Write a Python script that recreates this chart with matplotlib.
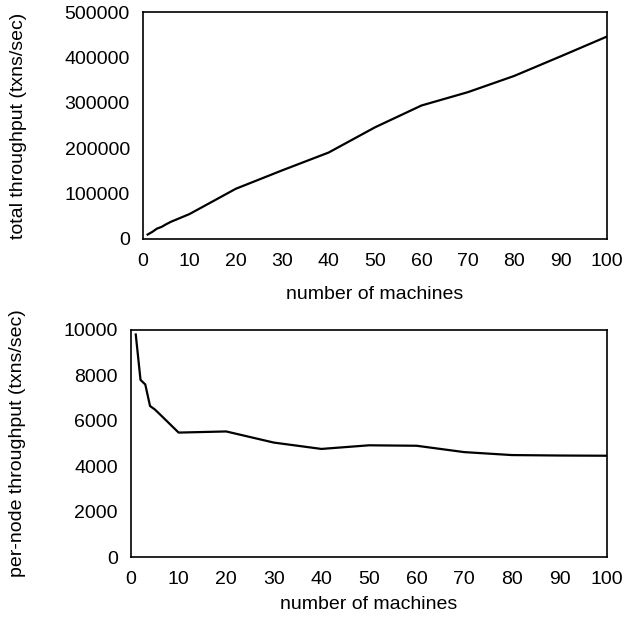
import matplotlib
matplotlib.use("Agg")
import matplotlib.pyplot as plt

plt.rcParams['font.family'] = ['Liberation Sans', 'DejaVu Sans']
plt.rcParams['font.size'] = 14

machines = [1, 2, 3, 4, 5, 6, 10, 20, 30, 40, 50, 60, 70, 80, 90, 100]
per_node = [9800, 7800, 7600, 6650, 6500, 6300, 5480, 5530, 5040, 4760, 4920, 4900, 4620, 4490, 4470, 4460]
total = [m * p for m, p in zip(machines, per_node)]

fig = plt.figure(figsize=(6.39, 6.22), dpi=100)

# top panel: total throughput
ax1 = fig.add_axes([0.2238, 0.6158, 0.7262, 0.3649])
ax1.plot(machines, total, color='black', lw=1.6)
ax1.set_xlim(0, 100)
ax1.set_ylim(0, 500000)
ax1.set_xticks(range(0, 101, 10))
ax1.set_yticks(range(0, 500001, 100000))
ax1.tick_params(axis='x', length=0, pad=10)
ax1.tick_params(axis='y', length=0, pad=9.5)
ax1.set_xlabel('number of machines')
ax1.set_ylabel('total throughput (txns/sec)')
ax1.xaxis.set_label_coords(0.5, -0.205)
ax1.yaxis.set_label_coords(-0.25, 0.5)

# bottom panel: per-node throughput
ax2 = fig.add_axes([0.205, 0.1045, 0.745, 0.3650])
ax2.plot(machines, per_node, color='black', lw=1.6)
ax2.set_xlim(0, 100)
ax2.set_ylim(0, 10000)
ax2.set_xticks(range(0, 101, 10))
ax2.set_yticks(range(0, 10001, 2000))
ax2.tick_params(axis='x', length=0, pad=10)
ax2.tick_params(axis='y', length=0, pad=9.5)
ax2.set_xlabel('number of machines')
ax2.set_ylabel('per-node throughput (txns/sec)')
ax2.xaxis.set_label_coords(0.5, -0.17)
ax2.yaxis.set_label_coords(-0.22, 0.5)

for ax in (ax1, ax2):
    for s in ax.spines.values():
        s.set_linewidth(1.2)

fig.savefig('out.png', dpi=100)
